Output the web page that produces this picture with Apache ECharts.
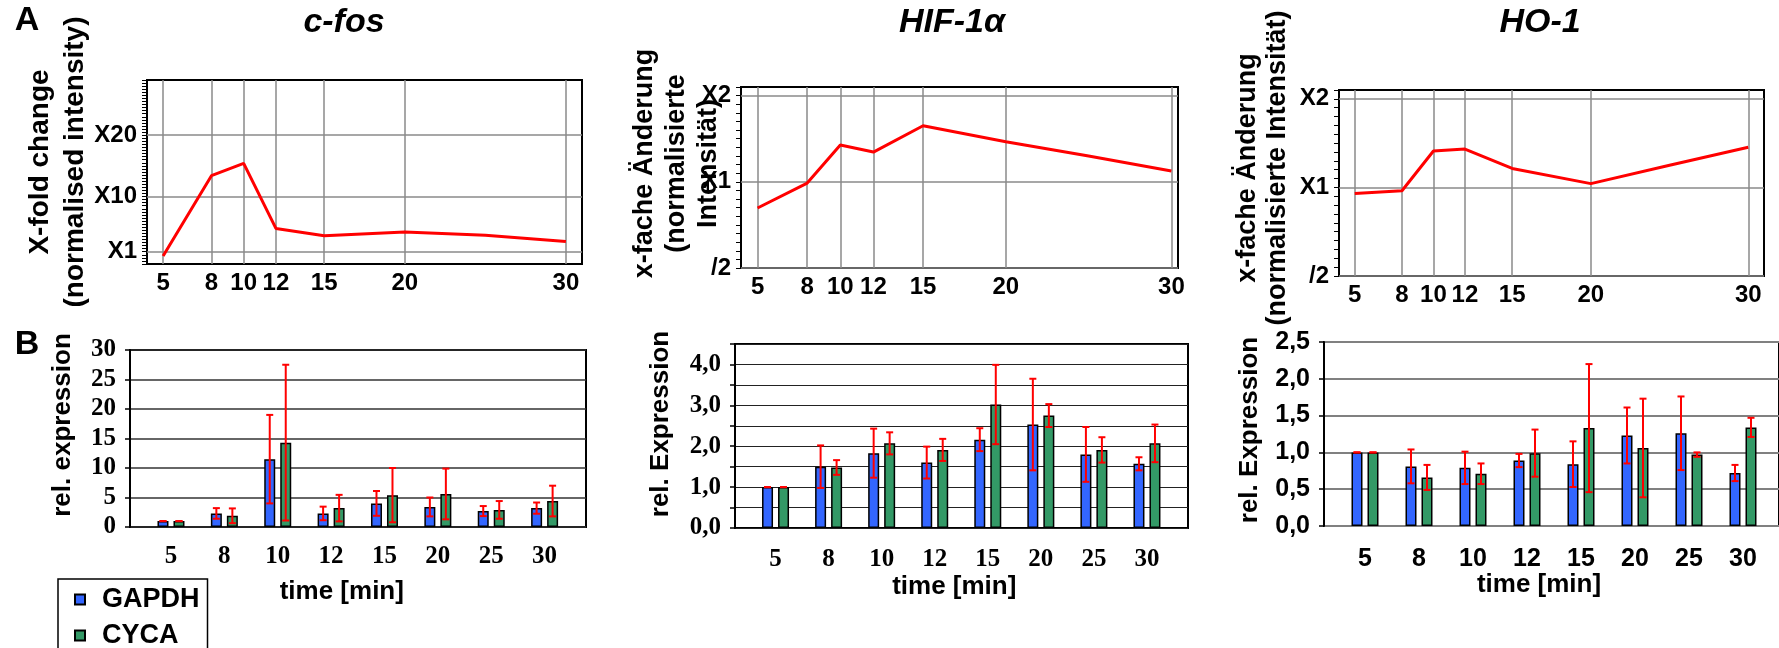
<!DOCTYPE html>
<html>
<head>
<meta charset="utf-8">
<script src="https://cdn.jsdelivr.net/npm/echarts@6/dist/echarts.min.js"></script>
<style>
html, body { margin: 0; padding: 0; background: #fff; }
#main { width: 1779px; height: 648px; }
</style>
</head>
<body>
<div id="main"></div>
<script>
// A: array fold change over time
var arrayTimes = [5, 8, 10, 12, 15, 20, 25, 30];
var timeTicks = [5, 8, 10, 12, 15, 20, 30];
var cfosFold = [0.3, 13.4, 15.4, 4.8, 3.6, 4.2, 3.7, 2.65];
var hifFold = [0.81, 0.99, 1.345, 1.27, 1.57, 1.38, 1.23, 1.09];
var ho1Fold = [0.954, 0.974, 1.33, 1.35, 1.16, 1.03, 1.19, 1.37];
var cfosTickLabels = {1: 'X1', 10: 'X10', 20: 'X20'};
var logTickLabels = {0.5: '/2', 1: 'X1', 2: 'X2'};

// B: qPCR, relative expression (mean, sd)
var categories = ['5', '8', '10', '12', '15', '20', '25', '30'];
var cfosGapdh = [1.0, 2.3, 11.5, 2.3, 4.0, 3.4, 2.7, 3.2];
var cfosGapdhSd = [0, 0.9, 7.5, 1.15, 2.1, 1.6, 0.85, 0.95];
var cfosCyca = [1.0, 1.9, 14.3, 3.2, 5.4, 5.6, 2.9, 4.4];
var cfosCycaSd = [0, 1.25, 13.2, 2.25, 4.6, 4.3, 1.5, 2.6];
var hifGapdh = [1.0, 1.5, 1.83, 1.6, 2.16, 2.53, 1.8, 1.57];
var hifGapdhSd = [0, 0.52, 0.6, 0.39, 0.28, 1.12, 0.67, 0.16];
var hifCyca = [1.0, 1.48, 2.07, 1.91, 3.02, 2.75, 1.91, 2.07];
var hifCycaSd = [0, 0.18, 0.27, 0.27, 0.97, 0.28, 0.31, 0.46];
var ho1Gapdh = [1.0, 0.81, 0.79, 0.89, 0.84, 1.23, 1.26, 0.72];
var ho1GapdhSd = [0, 0.23, 0.22, 0.09, 0.31, 0.38, 0.5, 0.11];
var ho1Cyca = [1.0, 0.66, 0.71, 0.99, 1.33, 1.06, 0.97, 1.34];
var ho1CycaSd = [0, 0.17, 0.14, 0.32, 0.87, 0.67, 0.03, 0.13];

var ARIAL = '"Liberation Sans", Arial, sans-serif';
var TIMES = '"Liberation Serif", "Times New Roman", serif';
var BAR_W = 11, BAR_GAP = 5;

function pairs(xs, ys) {
    return xs.map(function (x, i) { return [x, ys[i]]; });
}

function timeLabel(v) {
    return timeTicks.indexOf(v) >= 0 ? String(v) : '';
}

function topXAxis(grid, max) {
    return {
        type: 'value', gridIndex: grid, min: 4, max: max, interval: 1,
        axisLine: {show: false}, axisTick: {show: false}, splitLine: {show: false},
        axisLabel: {formatter: timeLabel, color: '#000', fontFamily: ARIAL, fontWeight: 'bold', fontSize: 24, margin: 7}
    };
}

function topName(text, gap, fs, lh, pad) {
    return {
        name: text, nameLocation: 'middle', nameGap: gap, nameMoveOverlap: false,
        nameTextStyle: {color: '#000', fontFamily: ARIAL, fontWeight: 'bold', fontSize: fs, lineHeight: lh, padding: [0, 0, 0, pad]}
    };
}

function gridLines(xi, yi, yVals) {
    var d = timeTicks.map(function (t) { return {xAxis: t}; })
        .concat(yVals.map(function (v) { return {yAxis: v}; }));
    return {
        type: 'line', xAxisIndex: xi, yAxisIndex: yi, data: [], z: 1, silent: true,
        markLine: {symbol: ['none', 'none'], silent: true, label: {show: false},
            lineStyle: {color: '#8a8a8a', width: 1.5, type: 'solid'}, data: d}
    };
}

function foldLine(xi, yi, ys) {
    return {
        type: 'line', xAxisIndex: xi, yAxisIndex: yi, z: 10, silent: true,
        data: pairs(arrayTimes, ys), showSymbol: false,
        lineStyle: {color: '#ff0000', width: 3}
    };
}

function errorBars(xi, yi, means, sds, sign) {
    return {
        type: 'custom', xAxisIndex: xi, yAxisIndex: yi, z: 10, silent: true,
        data: means.map(function (m, i) { return [i, m, sds[i]]; }),
        encode: {x: 0, y: 1},
        renderItem: function (params, api) {
            var i = api.value(0), m = api.value(1), s = api.value(2);
            var top = api.coord([i, m + s]);
            var bot = api.coord([i, m - s]);
            var x = top[0] + sign * (BAR_W + BAR_GAP) / 2;
            var st = {stroke: '#ff0000', lineWidth: 2};
            return {type: 'group', children: [
                {type: 'line', shape: {x1: x, y1: top[1], x2: x, y2: bot[1]}, style: st},
                {type: 'line', shape: {x1: x - 3.5, y1: top[1], x2: x + 3.5, y2: top[1]}, style: st},
                {type: 'line', shape: {x1: x - 3.5, y1: bot[1], x2: x + 3.5, y2: bot[1]}, style: st}
            ]};
        }
    };
}

function bars(xi, yi, name, data, color) {
    return {
        type: 'bar', name: name, xAxisIndex: xi, yAxisIndex: yi, data: data,
        barWidth: BAR_W, barGap: (BAR_GAP / BAR_W * 100) + '%', silent: true,
        itemStyle: {color: color, borderColor: '#000', borderWidth: 1.5}
    };
}

function boxGrid(left, top, width, height) {
    return {left: left, top: top, width: width, height: height, show: true, borderColor: '#000', borderWidth: 2};
}

function boxYAxis(grid, max, interval, fmt, font, lineColor, lineWidth, name, gap, pad) {
    return {
        type: 'value', gridIndex: grid, min: 0, max: max, interval: interval,
        axisLine: {show: true, lineStyle: {color: '#000', width: 2}},
        axisTick: {show: true, length: 5, lineStyle: {color: '#000', width: 1.5}},
        axisLabel: {formatter: fmt, color: '#000', fontFamily: font, fontWeight: 'bold', fontSize: 25, margin: 14},
        splitLine: {lineStyle: {color: lineColor, width: lineWidth}},
        name: name, nameLocation: 'middle', nameGap: gap, nameMoveOverlap: false,
        nameTextStyle: {color: '#000', fontFamily: ARIAL, fontWeight: 'bold', fontSize: 26, padding: [0, 0, 0, pad]}
    };
}

function hiddenY(grid, max) {
    return {type: 'value', gridIndex: grid, min: 0, max: max, show: false};
}

function catXAxis(grid, font, margin, gap, pad) {
    return {
        type: 'category', gridIndex: grid, data: categories,
        axisLine: {show: false}, axisTick: {show: false},
        axisLabel: {color: '#000', fontFamily: font, fontWeight: 'bold', fontSize: 25, margin: margin},
        name: 'time [min]', nameLocation: 'middle', nameGap: gap, nameMoveOverlap: false,
        nameTextStyle: {color: '#000', fontFamily: ARIAL, fontWeight: 'bold', fontSize: 26, padding: [0, pad, 0, 0]}
    };
}

function comma(v) {
    return v.toFixed(1).replace('.', ',');
}

function minorTickAxis(grid) {
    return {
        type: 'value', gridIndex: grid, position: 'left', min: -1, max: 1.1, interval: 0.1,
        axisLine: {show: false}, axisLabel: {show: false}, splitLine: {show: false}, axisTick: tickStyle
    };
}

var tickStyle = {show: true, length: 5, lineStyle: {color: '#000', width: 1}};
var topLabel = {color: '#000', fontFamily: ARIAL, fontWeight: 'bold', fontSize: 24, margin: 10};

var option = {
    animation: false,
    backgroundColor: '#fff',
    legend: {
        data: ['GAPDH', 'CYCA'], orient: 'vertical', left: 58, top: 579, height: 120,
        itemWidth: 10, itemHeight: 10, itemGap: 9, icon: 'rect', selectedMode: false,
        padding: [7, 8, 40, 16], borderColor: '#000', borderWidth: 1.5,
        textStyle: {color: '#000', fontFamily: ARIAL, fontWeight: 'bold', fontSize: 27, lineHeight: 27, padding: [0, 0, 0, 12]}
    },
    graphic: [
        {type: 'text', x: 27, y: 21, style: {text: 'A', font: 'bold 34px ' + ARIAL, fill: '#000', textAlign: 'center', textVerticalAlign: 'middle'}},
        {type: 'text', x: 27, y: 345, style: {text: 'B', font: 'bold 34px ' + ARIAL, fill: '#000', textAlign: 'center', textVerticalAlign: 'middle'}},
        {type: 'text', x: 344, y: 23, style: {text: 'c-fos', font: 'italic bold 34px ' + ARIAL, fill: '#000', textAlign: 'center', textVerticalAlign: 'middle'}},
        {type: 'text', x: 952, y: 23, style: {text: 'HIF-1\u03b1', font: 'italic bold 34px ' + ARIAL, fill: '#000', textAlign: 'center', textVerticalAlign: 'middle'}},
        {type: 'text', x: 1540, y: 23, style: {text: 'HO-1', font: 'italic bold 34px ' + ARIAL, fill: '#000', textAlign: 'center', textVerticalAlign: 'middle'}}
    ],
    grid: [
        boxGrid(147, 80, 435, 184),     // 0 A c-fos
        boxGrid(741, 87, 437, 181),     // 1 A HIF-1a
        boxGrid(1339, 90, 425, 186),    // 2 A HO-1
        boxGrid(130, 350, 456, 177),    // 3 B c-fos frame
        {left: 144.3, top: 350, width: 427, height: 177},   // 4 B c-fos bars
        boxGrid(735, 344, 453, 184),    // 5 B HIF frame
        {left: 749, top: 344, width: 424.5, height: 184},   // 6 B HIF bars
        boxGrid(1324, 342, 480, 184),   // 7 B HO-1 frame
        {left: 1338, top: 342, width: 432, height: 184}     // 8 B HO-1 bars
    ],
    xAxis: [
        topXAxis(0, 31),
        topXAxis(1, 30.4),
        topXAxis(2, 31),
        {type: 'value', gridIndex: 3, min: 0, max: 1, show: false},
        catXAxis(4, TIMES, 17, 52, 32),
        {type: 'value', gridIndex: 5, min: 0, max: 1, show: false},
        catXAxis(6, TIMES, 19, 46, 14),
        {type: 'value', gridIndex: 7, min: 0, max: 1, show: false},
        catXAxis(8, ARIAL, 21, 46, 30)
    ],
    yAxis: [
        Object.assign({
            type: 'value', gridIndex: 0, min: -1, max: 29, interval: 0.5,
            axisLine: {show: false}, axisTick: tickStyle, splitLine: {show: false},
            axisLabel: Object.assign({formatter: function (v) { return cfosTickLabels[v] || ''; }}, topLabel)
        }, topName('X-fold change\n(normalised intensity)', 54, 28, 35, 20)),
        Object.assign({
            type: 'log', logBase: 2, gridIndex: 1, position: 'left', min: 0.5, max: Math.pow(2, 1.1),
            axisLine: {show: false}, axisTick: {show: false}, splitLine: {show: false},
            axisLabel: Object.assign({formatter: function (v) { return logTickLabels[v] || ''; }}, topLabel)
        }, topName('x-fache \u00c4nderung\n(normalisierte\nIntensit\u00e4t)', 16, 27, 32, 28)),
        minorTickAxis(1),
        Object.assign({
            type: 'log', logBase: 2, gridIndex: 2, position: 'left', min: 0.5, max: Math.pow(2, 1.1),
            axisLine: {show: false}, axisTick: {show: false}, splitLine: {show: false},
            axisLabel: Object.assign({formatter: function (v) { return logTickLabels[v] || ''; }}, topLabel)
        }, topName('x-fache \u00c4nderung\n(normalisierte Intensit\u00e4t)', 46, 27, 30, 30)),
        minorTickAxis(2),
        boxYAxis(3, 30, 5, function (v) { return String(v); }, TIMES, '#333', 1.5, 'rel. expression', 54, 27),
        hiddenY(4, 30),
        boxYAxis(5, 4.5, 0.5, function (v) { return v % 1 === 0 ? comma(v) : ''; }, TIMES, '#222', 1.2, 'rel. Expression', 61, 24),
        hiddenY(6, 4.5),
        boxYAxis(7, 2.5, 0.5, comma, ARIAL, '#808080', 2, 'rel. Expression', 61, 8),
        hiddenY(8, 2.5)
    ],
    series: [
        gridLines(0, 0, [1, 10, 20]),
        foldLine(0, 0, cfosFold),
        gridLines(1, 1, [0.5, 1, 2]),
        foldLine(1, 1, hifFold),
        gridLines(2, 3, [0.5, 1, 2]),
        foldLine(2, 3, ho1Fold),

        bars(4, 6, 'GAPDH', cfosGapdh, '#3366ff'),
        bars(4, 6, 'CYCA', cfosCyca, '#339966'),
        errorBars(4, 6, cfosGapdh, cfosGapdhSd, -1),
        errorBars(4, 6, cfosCyca, cfosCycaSd, 1),

        bars(6, 8, 'GAPDH', hifGapdh, '#3366ff'),
        bars(6, 8, 'CYCA', hifCyca, '#339966'),
        errorBars(6, 8, hifGapdh, hifGapdhSd, -1),
        errorBars(6, 8, hifCyca, hifCycaSd, 1),

        bars(8, 10, 'GAPDH', ho1Gapdh, '#3366ff'),
        bars(8, 10, 'CYCA', ho1Cyca, '#339966'),
        errorBars(8, 10, ho1Gapdh, ho1GapdhSd, -1),
        errorBars(8, 10, ho1Cyca, ho1CycaSd, 1)
    ]
};

var myChart = echarts.init(document.getElementById('main'));
myChart.setOption(option);
window.addEventListener('resize', function () {
    myChart.resize();
});
</script>
</body>
</html>
